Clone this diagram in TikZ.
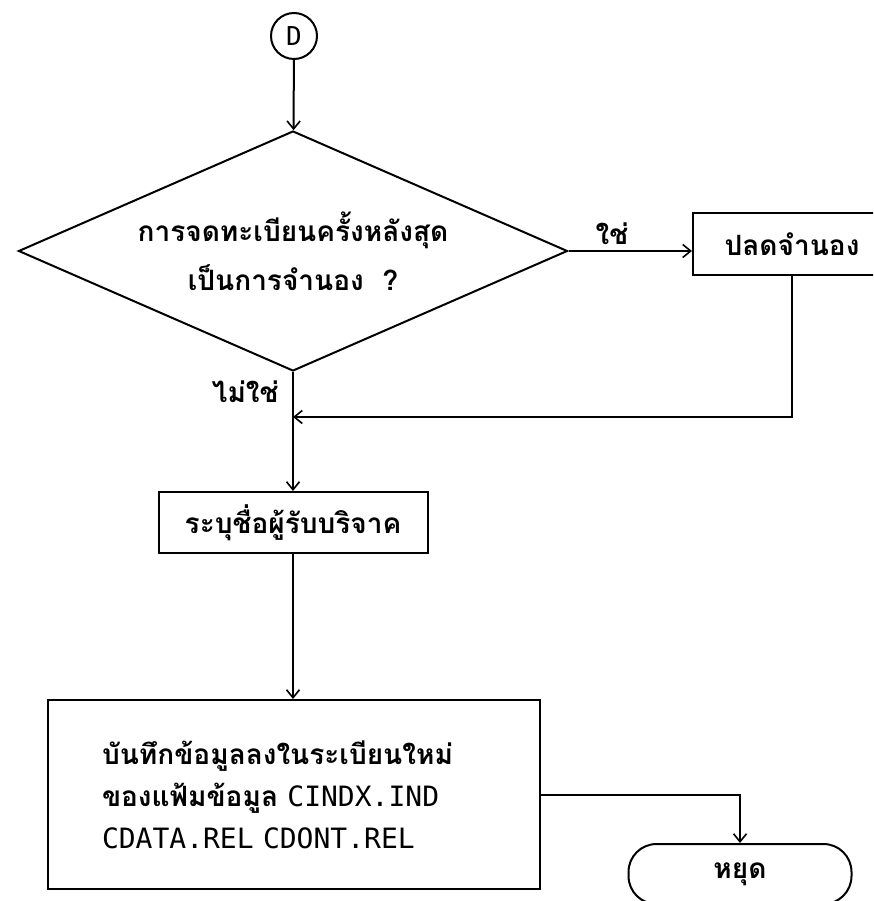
\documentclass[tikz,border=0pt]{standalone}
\usepackage{fontspec}
\newfontfamily\thai[Script=Thai]{Loma}
\newfontfamily\mono{DejaVu Sans Mono}
\usetikzlibrary{shapes.geometric,arrows.meta}
\newcommand{\lat}[1]{{\mono\mdseries\fontsize{28}{42}\selectfont #1}}

\begin{document}
\begin{tikzpicture}[x=1pt,y=-1pt,line width=2pt,
  flow/.style={-{Straight Barb[length=8pt,width=13pt,line width=1.6pt]}},
  thtext/.style={font=\thai\bfseries\fontsize{28}{49}\selectfont},
  procbox/.style={draw,rectangle,thtext,inner sep=0pt}]
\clip (0,0) rectangle (873,901);
\fill[white] (0,0) rectangle (873,901);
\node[draw,circle,minimum size=46pt,inner sep=0pt,font=\mono\fontsize{26}{26}\selectfont] (D) at (294,36) {D};
\node[draw,diamond,aspect=2.3,minimum width=549pt,minimum height=240pt,inner sep=0pt,thtext,align=center] (dec) at (293,251)
  {การจดทะเบียนครั้งหลังสุด\\เป็นการจำนอง\ \ ?};
\node[procbox,minimum width=198pt,minimum height=62pt] (unlock) at (792,244) {ปลดจำนอง};
\node[procbox,minimum width=269pt,minimum height=61pt] (name) at (293,522.5) {ระบุชื่อผู้รับบริจาค};
\node[draw,rectangle,minimum width=492pt,minimum height=189pt,inner xsep=54pt,inner ysep=0pt,
  text width=384pt,align=left,font=\thai\bfseries\fontsize{28}{42}\selectfont] (save) at (294,794.5)
  {บันทึกข้อมูลลงในระเบียนใหม่\\ของแฟ้มข้อมูล \lat{CINDX.IND}\\\lat{CDATA.REL\ CDONT.REL}};
\node[draw,rectangle,rounded corners=28pt,minimum width=223pt,minimum height=60pt,thtext] (stop) at (740,874) {หยุด};
\node[thtext] (yes) at (612,234) {ใช่};
\node[thtext,anchor=east] (no) at (283,392) {ไม่ใช่};
\coordinate (join) at (293,417);
% connectors
\draw[flow] (D) -- (dec);
\draw[flow] (dec.east) -- (dec.east -| unlock.west);
\draw[flow] (unlock.south) |- (join);
\draw[flow] (dec.south) -- (name.north);
\draw[flow] (name.south) -- (name.south |- save.north);
\draw[flow] (save.east) -| (stop.north);
\end{tikzpicture}
\end{document}
